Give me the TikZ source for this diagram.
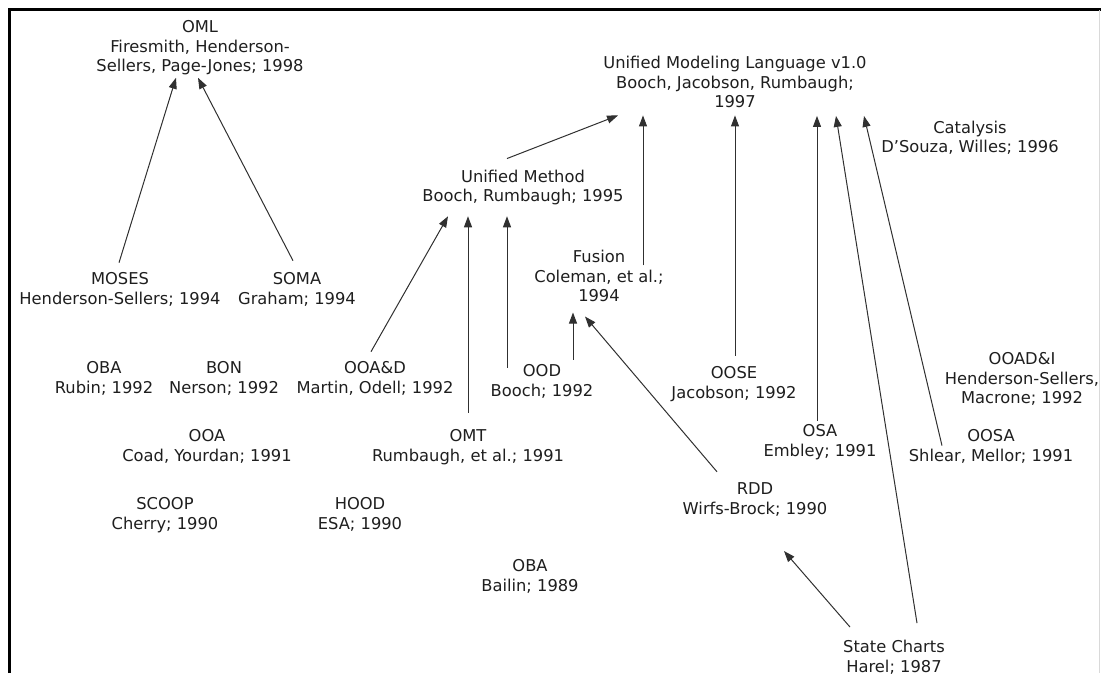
\documentclass[tikz,border=0pt]{standalone}
\usepackage{fontspec}
\setmainfont{DejaVu Sans}
\usetikzlibrary{arrows.meta,calc}
\definecolor{ink}{HTML}{1E1E1E}
\definecolor{edge}{HTML}{303030}
\begin{document}
\begin{tikzpicture}[x=1pt,y=-1pt,
  method/.style={align=center,inner sep=0pt,text=ink,
    font=\fontsize{16.3}{19.5}\selectfont,
    execute at begin node=\strut,execute at end node=\strut},
  link/.style={draw=edge,line width=1pt,-{Triangle[length=11pt,width=8pt]}}]
\useasboundingbox (0,0) rectangle (1101,673);

% page frame
\draw[line width=2.2pt,black] (9.5,673) -- (9.5,9.5) -- (1101,9.5);
\draw[line width=1pt,black!15] (1099.5,10) -- (1099.5,673);

% methods
\node[method] (oml)       at (200,49.1)  {OML\\Firesmith, Henderson-\\Sellers, Page-Jones; 1998};
\node[method] (moses)     at (120,291.6) {MOSES\\Henderson-Sellers; 1994};
\node[method] (soma)      at (297,291.6) {SOMA\\Graham; 1994};
\node[method] (um)        at (523,188.6) {Unified Method\\Booch, Rumbaugh; 1995};
\node[method] (uml)       at (735,85.1)  {Unified Modeling Language v1.0\\Booch, Jacobson, Rumbaugh;\\1997};
\node[method] (fusion)    at (599,279.1) {Fusion\\Coleman, et al.;\\1994};
\node[method] (catalysis) at (970,139.6) {Catalysis\\D’Souza, Willes; 1996};
\node[method] (obar)      at (104,380.6) {OBA\\Rubin; 1992};
\node[method] (bon)       at (224,380.6) {BON\\Nerson; 1992};
\node[method] (ooad)      at (375,380.6) {OOA\&D\\Martin, Odell; 1992};
\node[method] (ood)       at (542,383.6) {OOD\\Booch; 1992};
\node[method] (oose)      at (734,385.6) {OOSE\\Jacobson; 1992};
\node[method] (ooadi)     at (1022,381.1) {OOAD\&I\\Henderson-Sellers,\\Macrone; 1992};
\node[method] (ooa)       at (207,448.6) {OOA\\Coad, Yourdan; 1991};
\node[method] (omt)       at (468,448.6) {OMT\\Rumbaugh, et al.; 1991};
\node[method] (osa)       at (820,443.6) {OSA\\Embley; 1991};
\node[method] (oosa)      at (991,448.6) {OOSA\\Shlear, Mellor; 1991};
\node[method] (scoop)     at (165,516.6) {SCOOP\\Cherry; 1990};
\node[method] (hood)      at (360,516.6) {HOOD\\ESA; 1990};
\node[method] (rdd)       at (755,501.6) {RDD\\Wirfs-Brock; 1990};
\node[method] (obab)      at (530,578.6) {OBA\\Bailin; 1989};
\node[method] (sc)        at (894,659.1) {State Charts\\Harel; 1987};

% influences
\draw[link] ($(moses.north)+(-1,-10)$)  -- ($(oml.south)+(-24,0)$);
\draw[link] ($(soma.north)+(-4,-12)$)   -- ($(oml.south)+(-2,0)$);
\draw[link] ($(um.north)+(-16,-11)$)    -- ($(uml.south)+(-117,1.5)$);
\draw[link] ($(fusion.north)+(44,15)$)  -- ($(uml.south)+(-92,1.5)$);
\draw[link] ($(oose.north)+(1,-11)$)    -- ($(uml.south)+(0,1.5)$);
\draw[link] ($(osa.north)+(-3,-4)$)     -- ($(uml.south)+(82,2)$);
\draw[link] ($(sc.north)+(23,-17)$)     -- ($(uml.south)+(101,2)$);
\draw[link] ($(oosa.north)+(-49,16)$)   -- ($(uml.south)+(129,2)$);
\draw[link] ($(ooad.north)+(-4,-10)$)   -- ($(um.south)+(-75,8.6)$);
\draw[link] ($(omt.north)+(0,-17)$)     -- ($(um.south)+(-55,8.6)$);
\draw[link] ($(ood.north)+(-35,3)$)     -- ($(um.south)+(-16,8.6)$);
\draw[link] ($(ood.north)+(31,-5)$)     -- ($(fusion.south)+(-26,4.6)$);
\draw[link] ($(rdd.north)+(-38,-11)$)   -- ($(fusion.south)+(-14,8.6)$);
\draw[link] ($(sc.north)+(-44,-13)$)    -- ($(rdd.south)+(29,30.6)$);
\end{tikzpicture}
\end{document}
